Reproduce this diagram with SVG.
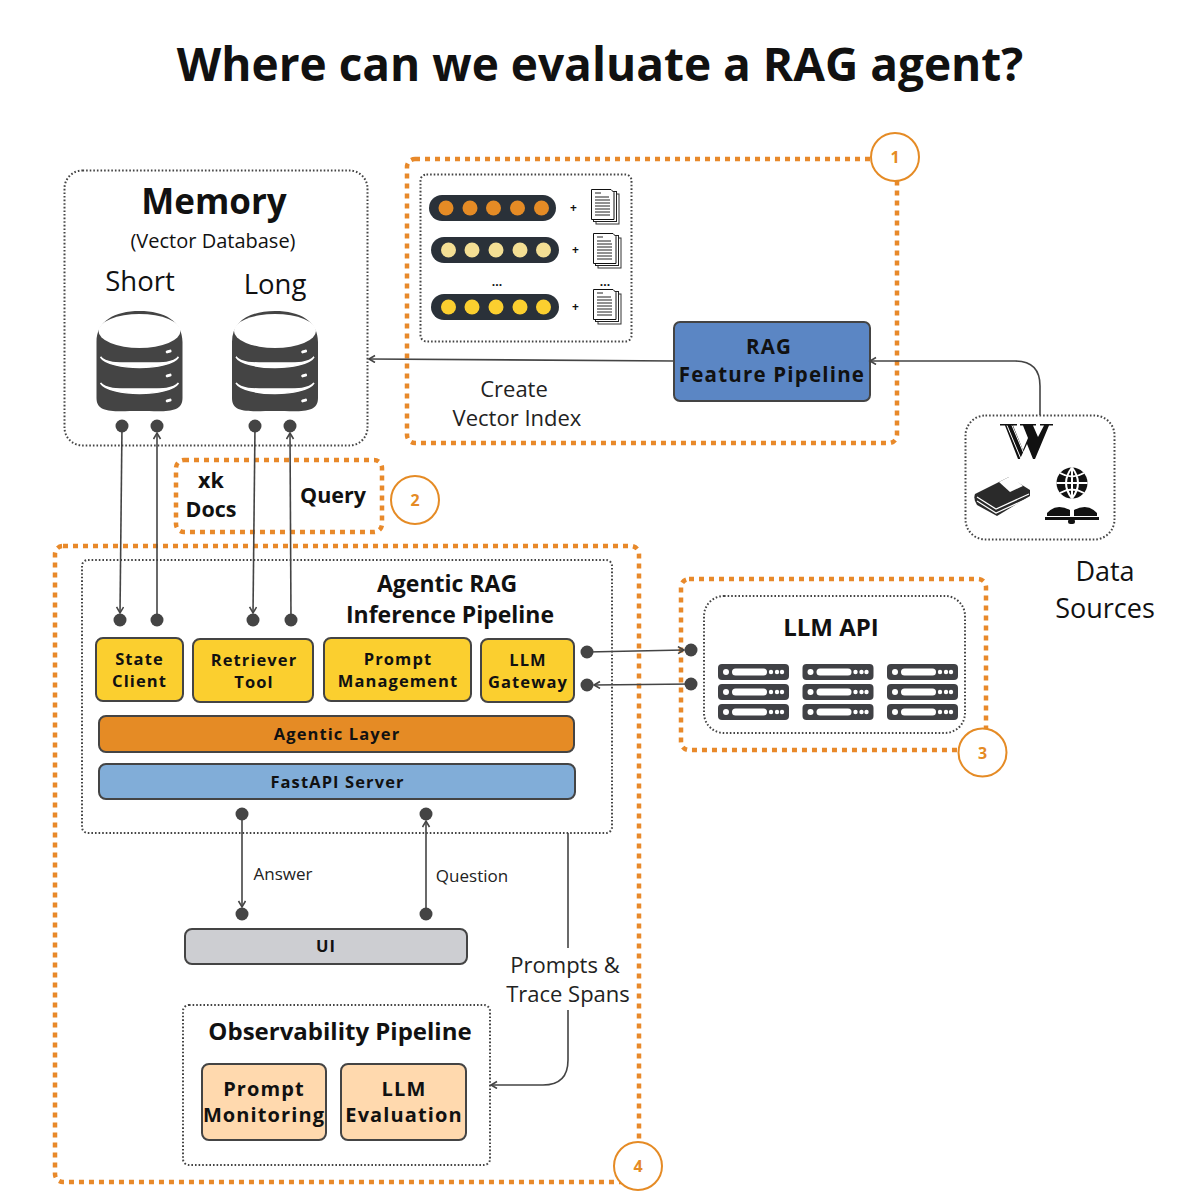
<svg xmlns="http://www.w3.org/2000/svg" width="1200" height="1200" viewBox="0 0 1200 1200">
<style>
text{font-family:"Open Sans","Noto Sans",sans-serif;fill:#111;text-anchor:middle}
.b{font-weight:700}
.s{font-weight:700;font-size:16.5px;letter-spacing:1.1px}
.m{font-size:22px;fill:#222}
.q{font-size:17px;fill:#222}
.dot{fill:none;stroke:#444;stroke-width:2;stroke-dasharray:1.6 2}
.or{fill:none;stroke:#E8892A;stroke-width:4.5;stroke-dasharray:5 5}
.cir{fill:#fff;stroke:#E58B25;stroke-width:2}
.cn{fill:#E58B25;font-weight:700;font-size:16px}
.box{stroke:#444;stroke-width:2}
.y{fill:#FBCF2F}
.p{fill:#FFD9AE}
.c{fill:none;stroke:#444;stroke-width:1.6}
.a{marker-end:url(#arr)}
.d{fill:#444}
.pill{fill:#2A3139}
</style>
<defs>
<marker id="arr" markerWidth="10" markerHeight="10" refX="7" refY="4" orient="auto" markerUnits="userSpaceOnUse"><path d="M1 0.5L7 4L1 7.5" fill="none" stroke="#444" stroke-width="1.6"/></marker>
<g id="db">
<path class="d" d="M-43 18C-43 -3 -25 -13 0 -13C25 -13 43 -3 43 18V74C43 90 25 87 0 87C-25 87 -43 90 -43 74Z"/>
<ellipse cx="0" cy="7" rx="41" ry="17" fill="#fff"/>
<path d="M-39 33C-30 47 30 47 39 33C33 40 20 39 0 39C-20 39 -33 40 -39 33Z M-39 59C-30 73 30 73 39 59C33 66 20 65 0 65C-20 65 -33 66 -39 59Z" fill="#fff" stroke="#fff" stroke-width="1.5"/>
<rect x="26" y="26" width="6" height="3" rx="1.5" fill="#fff" transform="rotate(-15 29 27)"/>
<rect x="26" y="50" width="6" height="3" rx="1.5" fill="#fff" transform="rotate(-15 29 51)"/>
<rect x="26" y="75" width="6" height="3" rx="1.5" fill="#fff" transform="rotate(-15 29 76)"/>
</g>
<g id="doc">
<rect x="5" y="5" width="23" height="30" fill="#fff" stroke="#333" stroke-width="1"/>
<rect x="2.500" y="2.500" width="23" height="30" fill="#fff" stroke="#222" stroke-width="1"/>
<path d="M0.500 0.500H20L23 3.500V30.500H0.500Z" fill="#fff" stroke="#111" stroke-width="1"/>
<path d="M4 4H10M4 8H18M4 11H19M4 14H19M4 17H19M4 20H19M4 23H19M4 26H19" stroke="#222" stroke-width="1" fill="none"/>
</g>
<g id="rack">
<rect width="71" height="16" rx="4" fill="#404145"/>
<circle cx="8" cy="8" r="3" fill="#fff"/>
<rect x="14" y="4.500" width="35" height="7" rx="3.500" fill="#fff"/>
<circle cx="53" cy="8" r="2.200" fill="#fff"/><circle cx="59" cy="8" r="2.200" fill="#fff"/><circle cx="64" cy="8" r="2.200" fill="#fff"/>
</g>
<g id="rackrow"><use href="#rack"/><use href="#rack" y="20"/><use href="#rack" y="40"/></g>
</defs>
<rect width="1200" height="1200" fill="#fff"/>
<text id="title" x="600" y="81" class="b" font-size="46" fill="#000">Where can we evaluate a RAG agent?</text>

<g id="memory">
<rect class="dot" x="64.500" y="170.500" width="303" height="275" rx="18"/>
<text x="214" y="214" class="b" font-size="35">Memory</text>
<text x="213" y="248" font-size="20" fill="#333">(Vector Database)</text>
<text x="140" y="291" font-size="27.500" fill="#222">Short</text>
<text x="275" y="294" font-size="27.500" fill="#222">Long</text>
<use href="#db" x="139.500" y="324"/>
<use href="#db" x="275" y="324"/>
</g>

<g id="feature-group">
<rect class="or" x="407" y="159" width="490" height="284" rx="8"/>
<circle class="cir" cx="895" cy="157" r="24"/>
<text class="cn" x="895" y="163">1</text>
</g>
<g id="vector-index">
<rect class="dot" x="420.500" y="174.500" width="211" height="167" rx="6"/>
<rect class="pill" x="429" y="195" width="127" height="26" rx="13"/>
<g fill="#E58B25"><circle cx="446" cy="208" r="7.500"/><circle cx="470" cy="208" r="7.500"/><circle cx="493.500" cy="208" r="7.500"/><circle cx="517.500" cy="208" r="7.500"/><circle cx="541.500" cy="208" r="7.500"/></g>
<rect class="pill" x="431" y="237" width="128" height="26" rx="13"/>
<g fill="#F4DF94"><circle cx="448.500" cy="250" r="7.500"/><circle cx="472" cy="250" r="7.500"/><circle cx="496" cy="250" r="7.500"/><circle cx="520" cy="250" r="7.500"/><circle cx="543.500" cy="250" r="7.500"/></g>
<rect class="pill" x="431" y="294" width="128" height="26" rx="13"/>
<g fill="#FBCF2F"><circle cx="448.500" cy="307" r="7.500"/><circle cx="472" cy="307" r="7.500"/><circle cx="496" cy="307" r="7.500"/><circle cx="520" cy="307" r="7.500"/><circle cx="543.500" cy="307" r="7.500"/></g>
<text x="573.500" y="212" class="b" font-size="12">+</text>
<text x="575.500" y="254" class="b" font-size="12">+</text>
<text x="575.500" y="311" class="b" font-size="12">+</text>
<text x="497" y="286" class="b" font-size="12">...</text>
<text x="605" y="286" class="b" font-size="12">...</text>
<use href="#doc" x="591" y="189"/>
<use href="#doc" x="593" y="233"/>
<use href="#doc" x="593" y="289"/>
</g>
<g id="rag-feature-pipeline">
<rect class="box" x="674" y="322" width="196" height="79" rx="6" fill="#5B86C4"/>
<text x="769" y="354" class="b" font-size="20.500" letter-spacing="1.200">RAG</text>
<text x="772" y="382" class="b" font-size="20.500" letter-spacing="1.200">Feature Pipeline</text>
</g>
<text x="514" y="397" class="m">Create</text>
<text x="517" y="426" class="m">Vector Index</text>

<g id="data-sources">
<rect class="dot" x="965.500" y="415.500" width="149" height="124" rx="20"/>
<text x="1105" y="581" font-size="27" fill="#222">Data</text>
<text x="1105" y="618" font-size="27" fill="#222">Sources</text>
<path d="M1000 424H1017V425.500H1013L1023 450L1028 438L1023 425.500H1020V424H1036V425.500H1033L1038 437L1044 425.500H1040V424H1053V425.500H1049L1035 459H1033L1027 444L1020 459H1018L1005 425.500H1000Z" fill="#111"/>
<path d="M1007 425.500L1021 459M1012 425.500L1025 456" stroke="#fff" stroke-width="1" fill="none"/>
<path d="M975 494L1009 477L1030 490V496L997 516L977 505Q973 499 975 494Z" fill="#2A2A2A"/>
<path d="M999 482L1011 476L1023 486L1010 492Z" fill="#fff"/>
<path d="M977 497L996 509L1029 494M977 501L996 513L1029 498" stroke="#fff" stroke-width="1.200" fill="none"/>
<circle cx="1072" cy="483" r="15.500" fill="#111"/>
<path d="M1072 467.500V498.500M1056.500 483H1087.500M1060 473Q1072 480 1084 473M1060 493Q1072 486 1084 493M1072 467.500Q1060 483 1072 498.500M1072 467.500Q1084 483 1072 498.500" stroke="#fff" stroke-width="2" fill="none"/>
<path d="M1047 513Q1056 503 1070 510V516H1047ZM1097 513Q1088 503 1074 510V516H1097Z" fill="#111"/>
<rect x="1045" y="517" width="54" height="3" fill="#111"/>
<rect x="1068" y="519" width="7" height="5" rx="2.500" fill="#111"/>
</g>

<g id="docs-query-group">
<rect class="or" x="176" y="460" width="206" height="72" rx="8"/>
<circle class="cir" cx="415" cy="500" r="24"/>
<text class="cn" x="415" y="506">2</text>
<text x="211" y="488" class="b" font-size="21.500">xk</text>
<text x="211" y="517" class="b" font-size="21.500">Docs</text>
<text x="333" y="503" class="b" font-size="21.500">Query</text>
</g>

<g id="inference-group">
<rect class="or" x="55" y="546" width="584" height="636" rx="8"/>
<circle class="cir" cx="638" cy="1166" r="24"/>
<text class="cn" x="638" y="1172">4</text>
</g>
<g id="agentic-rag">
<rect class="dot" x="82" y="560" width="530" height="273" rx="6"/>
<text x="447" y="592" class="b" font-size="23">Agentic RAG</text>
<text x="450" y="623" class="b" font-size="23">Inference Pipeline</text>
</g>
<g id="state-client"><rect class="box y" x="96" y="638" width="87" height="63" rx="7"/><text class="s" x="139.500" y="665">State</text><text class="s" x="139.500" y="687">Client</text></g>
<g id="retriever-tool"><rect class="box y" x="193" y="639" width="120" height="63" rx="7"/><text class="s" x="254" y="666">Retriever</text><text class="s" x="254" y="688">Tool</text></g>
<g id="prompt-management"><rect class="box y" x="324" y="638" width="147" height="63" rx="7"/><text class="s" x="398" y="665">Prompt</text><text class="s" x="398" y="687">Management</text></g>
<g id="llm-gateway"><rect class="box y" x="481" y="639" width="93" height="63" rx="7"/><text class="s" x="528" y="666">LLM</text><text class="s" x="528" y="688">Gateway</text></g>
<g id="agentic-layer"><rect class="box" x="99" y="716" width="475" height="36" rx="7" fill="#E58B25"/><text class="s" x="337" y="740">Agentic Layer</text></g>
<g id="fastapi-server"><rect class="box" x="99" y="764" width="476" height="35" rx="7" fill="#81ADD8"/><text class="s" x="337.500" y="788">FastAPI Server</text></g>
<g id="ui"><rect class="box" x="185" y="929" width="282" height="35" rx="7" fill="#CDCED2"/><text class="s" x="326" y="952">UI</text></g>

<g id="llm-api-group">
<rect class="or" x="681" y="579" width="305" height="171" rx="8"/>
<circle class="cir" cx="982.500" cy="752.500" r="24"/>
<text class="cn" x="982.500" y="758.500">3</text>
</g>
<g id="llm-api">
<rect class="dot" x="704" y="596" width="261" height="137" rx="20"/>
<text x="831" y="636" class="b" font-size="24" fill="#000">LLM API</text>
<use href="#rackrow" x="718" y="664"/>
<use href="#rackrow" x="802.500" y="664"/>
<use href="#rackrow" x="887" y="664"/>
</g>

<g id="observability-pipeline">
<rect class="dot" x="183" y="1005" width="307" height="160" rx="6"/>
<text x="340" y="1040" class="b" font-size="24">Observability Pipeline</text>
<rect class="box p" x="202" y="1064" width="124" height="76" rx="7"/>
<text class="s" x="264" y="1096" style="font-size:20px">Prompt</text><text class="s" x="264" y="1122" style="font-size:20px">Monitoring</text>
<rect class="box p" x="341" y="1064" width="125" height="76" rx="7"/>
<text class="s" x="404" y="1096" style="font-size:20px">LLM</text><text class="s" x="404" y="1122" style="font-size:20px">Evaluation</text>
</g>

<g id="connectors">
<path class="c a" d="M674 361L369 359"/>
<path class="c a" d="M1040 415V386Q1040 361 1015 361H870"/>
<path class="c a" d="M122 426L120 613"/>
<path class="c a" d="M157 620V433"/>
<path class="c a" d="M255 426L253 613"/>
<path class="c a" d="M291 620L290 433"/>
<path class="c a" d="M587 652L684 650"/>
<path class="c a" d="M691 684L594 685"/>
<path class="c a" d="M242 814V907"/>
<path class="c a" d="M426 914V821"/>
<path class="c" d="M568 833V948"/>
<path class="c a" d="M568 1010V1060Q568 1085 543 1085H491"/>
<g class="d">
<circle cx="122" cy="426" r="6.500"/><circle cx="157" cy="426" r="6.500"/><circle cx="255" cy="426" r="6.500"/><circle cx="290" cy="426" r="6.500"/>
<circle cx="120" cy="620" r="6.500"/><circle cx="157" cy="620" r="6.500"/><circle cx="253" cy="620" r="6.500"/><circle cx="291" cy="620" r="6.500"/>
<circle cx="587" cy="652" r="6.500"/><circle cx="691" cy="650" r="6.500"/><circle cx="587" cy="685" r="6.500"/><circle cx="691" cy="684" r="6.500"/>
<circle cx="242" cy="814" r="6.500"/><circle cx="242" cy="914" r="6.500"/><circle cx="426" cy="814" r="6.500"/><circle cx="426" cy="914" r="6.500"/>
</g>
<text x="283" y="880" class="q">Answer</text>
<text x="472" y="882" class="q">Question</text>
<text x="565" y="973" class="m">Prompts &amp;</text>
<text x="568" y="1002" class="m">Trace Spans</text>
</g>
</svg>
